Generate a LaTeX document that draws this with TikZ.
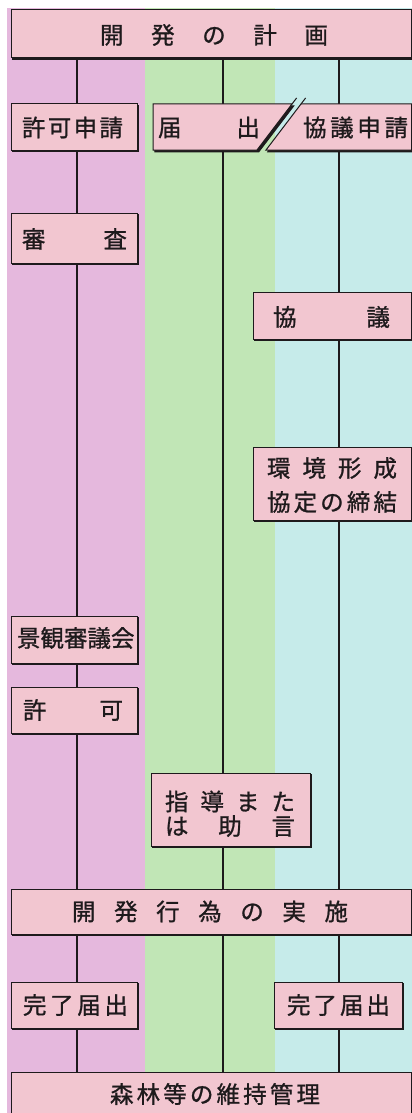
\documentclass[tikz,border=0pt]{standalone}
\usepackage{fontspec}
\newfontfamily\jp[FakeBold=1]{Noto Sans CJK JP}
\definecolor{bgpink}{RGB}{229,184,221}
\definecolor{bggreen}{RGB}{193,230,182}
\definecolor{bgcyan}{RGB}{198,235,234}
\definecolor{boxpink}{RGB}{242,198,208}
\definecolor{ink}{RGB}{30,26,28}
\newcommand\sprd[2]{\hbox to #1pt{#2}}
\tikzset{
  box/.style={draw=ink, line width=1pt, fill=boxpink, inner sep=0pt,
    preaction={draw=ink, fill=ink, line width=1pt, transform canvas={shift={(1.8pt,-1.8pt)}}}},
  lbl/.style={inner sep=0pt, text=ink, font=\jp\fontsize{23.5}{26}\selectfont},
  flow/.style={draw=ink, line width=1.3pt},
}
\begin{document}
\begin{tikzpicture}[x=1pt,y=-1pt]
\useasboundingbox (0,0) rectangle (412,1113);
\fill[white] (0,0) rectangle (412,1113);
% column backgrounds
\fill[bgpink] (7,8) rectangle (145,1113);
\fill[bggreen] (145,8) rectangle (275,1113);
\fill[bgcyan] (275,8) rectangle (412,1113);
% column axes
\coordinate (xp) at (77,0);
\coordinate (xg) at (223,0);
\coordinate (xc) at (339,0);
% boxes (geometry)
\node[box, minimum width=400.5pt, minimum height=48pt] (plan) at (211.25,34) {};
\node[box, minimum width=400.5pt, minimum height=53pt] (forest) at (211.25,1098.5) {};
% connectors (drawn behind the process boxes)
\draw[flow] (plan.south -| xp) -- (forest.north -| xp);
\draw[flow] (plan.south -| xg) -- (forest.north -| xg);
\draw[flow] (plan.south -| xc) -- (forest.north -| xc);
% redraw top/bottom boxes over the line ends
\node[box, minimum width=400.5pt, minimum height=48pt] (plan2) at (211.25,34) {};
\node[box, minimum width=400.5pt, minimum height=53pt] (forest2) at (211.25,1098.5) {};
\node[box, minimum width=126pt, minimum height=46pt] (kyokashinsei) at (74,127) {};
\filldraw[box] (153,104) -- (292,104) -- (257,150) -- (153,150) -- cycle;
\filldraw[box] (301,104) -- (411.5,104) -- (411.5,150) -- (266,150) -- cycle;
\coordinate (todoke) at (205,127);
\coordinate (kyogishinsei) at (350,127);
\draw[draw=ink, line width=1pt] (292,104) -- (296.6,98);
\draw[draw=ink, line width=1pt] (301,104) -- (305.6,98);
\node[box, minimum width=126pt, minimum height=50pt] (shinsa) at (74,238) {};
\node[box, minimum width=158.5pt, minimum height=47pt] (kyogi) at (332.25,315.5) {};
\node[box, minimum width=158.5pt, minimum height=73pt] (kankyo) at (332.25,483.5) {};
\node[box, minimum width=126pt, minimum height=47pt] (keikan) at (74,639.5) {};
\node[box, minimum width=126pt, minimum height=46pt] (kyoka) at (74,710) {};
\node[box, minimum width=159pt, minimum height=73pt] (shido) at (230.5,809.5) {};
\node[box, minimum width=400.5pt, minimum height=45pt] (kaihatsu) at (211.25,911.5) {};
\node[box, minimum width=126pt, minimum height=46pt] (kanryoL) at (74,1005) {};
\node[box, minimum width=128pt, minimum height=46pt] (kanryoR) at (338,1005) {};
% labels
\node[lbl] (t-plan) at (214,35) {\sprd{228}{開\hfill 発\hfill の\hfill 計\hfill 画}};
\node[lbl] (t-kyokashinsei) at (72.5,127.5) {\sprd{101}{許\hfill 可\hfill 申\hfill 請}};
\node[lbl] (t-todoke) at (209,127.5) {\sprd{102}{届\hfill 出}};
\node[lbl] (t-kyogishinsei) at (355.5,127.5) {\sprd{105}{協\hfill 議\hfill 申\hfill 請}};
\node[lbl] (t-shinsa) at (74.5,239) {\sprd{105}{審\hfill 査}};
\node[lbl] (t-kyogi) at (331.5,317) {\sprd{117}{協\hfill 議}};
\node[lbl] (t-kankyo1) at (332,468) {\sprd{130}{環\hfill 境\hfill 形\hfill 成}};
\node[lbl] (t-kankyo2) at (332,502) {\sprd{130}{協\hfill 定\hfill の\hfill 締\hfill 結}};
\node[lbl] (t-keikan) at (74.5,638) {\sprd{115}{景\hfill 観\hfill 審\hfill 議\hfill 会}};
\node[lbl] (t-kyoka) at (73,710) {\sprd{100}{許\hfill 可}};
\node[lbl] (t-shido1) at (230,801.5) {\sprd{130}{指\hfill 導\hfill ま\hfill た}};
\node[lbl] (t-shido2) at (230,826) {\sprd{130}{は\hfill 助\hfill 言}};
\node[lbl] (t-kaihatsu) at (210,911.5) {\sprd{276}{開\hfill 発\hfill 行\hfill 為\hfill の\hfill 実\hfill 施}};
\node[lbl] (t-kanryoL) at (75.5,1005) {\sprd{105}{完\hfill 了\hfill 届\hfill 出}};
\node[lbl] (t-kanryoR) at (338.5,1005) {\sprd{103}{完\hfill 了\hfill 届\hfill 出}};
\node[lbl] (t-forest) at (215,1094) {\sprd{210}{森\hfill 林\hfill 等\hfill の\hfill 維\hfill 持\hfill 管\hfill 理}};
\end{tikzpicture}
\end{document}
